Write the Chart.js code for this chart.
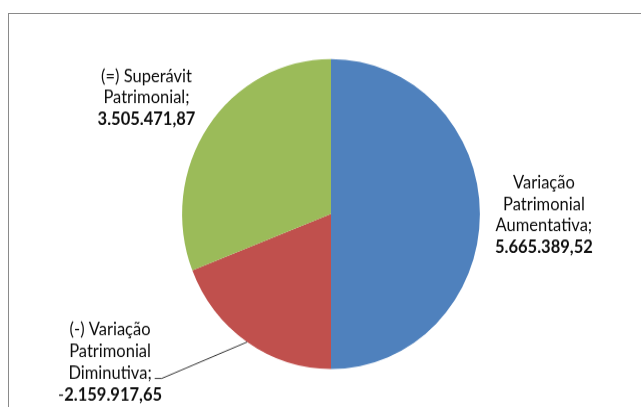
<!DOCTYPE html>
<html>
<head>
<meta charset="utf-8">
<script src="https://cdn.jsdelivr.net/npm/chart.js@4"></script>
<style>
  html, body { margin: 0; padding: 0; background: #fff; width: 641px; height: 407px; overflow: hidden; }
  #frame { position: absolute; left: 8px; top: 13px; width: 700px; height: 500px; border: 1.5px solid #8a8a8a; box-sizing: border-box; }
  #wrap { position: absolute; left: 0; top: 0; width: 641px; height: 391px; transform-origin: 0 0; transform: scaleY(1.0409); }
  canvas { display: block; }
</style>
</head>
<body>
<div id="frame"></div>
<div id="wrap"><canvas id="c" width="641" height="391"></canvas></div>
<script>
// ---- data ----
const categories = [
  'Variação Patrimonial Aumentativa',
  '(-) Variação Patrimonial Diminutiva',
  '(=) Superávit Patrimonial'
];
const categoryLines = [
  ['Variação', 'Patrimonial', 'Aumentativa;'],
  ['(-) Variação', 'Patrimonial', 'Diminutiva;'],
  ['(=) Superávit', 'Patrimonial;']
];
const values = [5665389.52, -2159917.65, 3505471.87];
const colors = ['#4F81BD', '#C0504D', '#9BBB59'];

// ---- helpers ----
function fmtBR(v) {
  const neg = v < 0;
  const a = Math.abs(v).toFixed(2).split('.');
  const intPart = a[0].replace(/\B(?=(\d{3})+(?!\d))/g, '.');
  return { sign: neg ? '-' : '', body: intPart + ',' + a[1] };
}

const FONT = 'Lato, "Open Sans", sans-serif';
const FS = 16.5;
const LH = 20.8;
// label block offsets from the slice's outer mid-point (px)
const labelOffsets = [[64, 1], [-137, 19.6], [-61.5, -27.6]];
const leader = [false, true, false];

const labelPlugin = {
  id: 'sliceLabels',
  afterDatasetsDraw(chart) {
    const ctx = chart.ctx;
    const meta = chart.getDatasetMeta(0);
    meta.data.forEach((arc, i) => {
      const p = arc.getProps(['x', 'y', 'startAngle', 'endAngle', 'outerRadius'], true);
      const mid = (p.startAngle + p.endAngle) / 2;
      const ex = p.x + p.outerRadius * Math.cos(mid);
      const ey = p.y + p.outerRadius * Math.sin(mid);
      const cx = ex + labelOffsets[i][0];
      const cy = ey + labelOffsets[i][1];
      const lines = categoryLines[i];
      const n = lines.length + 1;
      const y0 = cy - (n - 1) * LH / 2;
      ctx.save();
      ctx.fillStyle = '#0d0d0d';
      ctx.textBaseline = 'middle';
      ctx.textAlign = 'center';
      ctx.font = FS + 'px ' + FONT;
      lines.forEach((t, k) => ctx.fillText(t, cx, y0 + k * LH));
      // value line
      const f = fmtBR(values[i]);
      const yv = y0 + lines.length * LH;
      ctx.font = 'bold ' + FS + 'px ' + FONT;
      const wb = ctx.measureText(f.body).width;
      ctx.font = FS + 'px ' + FONT;
      const ws = ctx.measureText(f.sign).width;
      const left = cx - (wb + ws) / 2;
      ctx.textAlign = 'left';
      ctx.fillText(f.sign, left, yv);
      ctx.font = 'bold ' + FS + 'px ' + FONT;
      ctx.fillText(f.body, left + ws, yv);
      if (leader[i]) {
        const lastLine = lines[lines.length - 1];
        ctx.font = FS + 'px ' + FONT;
        const lw = ctx.measureText(lastLine).width;
        const ly = y0 + (lines.length - 1) * LH + 5;
        const lx = cx + lw / 2 + 3;
        ctx.strokeStyle = '#333';
        ctx.lineWidth = 1;
        ctx.beginPath();
        ctx.moveTo(lx, ly);
        ctx.lineTo(lx + 7, ly);
        ctx.lineTo(ex, ey);
        ctx.stroke();
      }
      ctx.restore();
    });
  }
};

new Chart(document.getElementById('c'), {
  type: 'pie',
  data: {
    labels: categories,
    datasets: [{
      data: values.map(v => Math.abs(v)),
      backgroundColor: colors,
      borderWidth: 0
    }]
  },
  options: {
    responsive: false,
    animation: false,
    layout: { padding: { left: 182, right: 161, top: 56.7, bottom: 36.5 } },
    plugins: { legend: { display: false }, tooltip: { enabled: false } }
  },
  plugins: [labelPlugin]
});
</script>
</body>
</html>
